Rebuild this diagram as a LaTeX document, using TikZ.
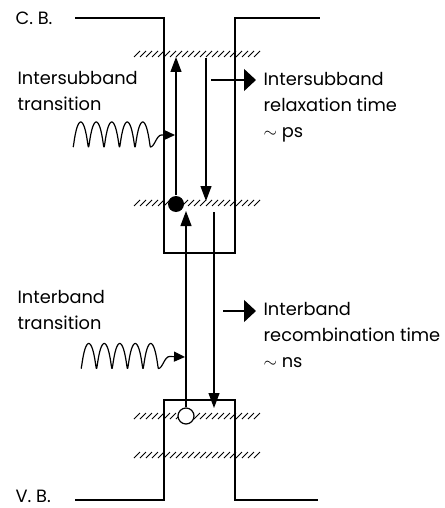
\documentclass[tikz,border=0pt]{standalone}
\usepackage{fontspec}
\setmainfont{Poppins}
\usetikzlibrary{arrows.meta}

\begin{document}
\begin{tikzpicture}[x=1pt, y=-1pt, line width=1.2pt,
	txt/.style={font=\fontsize{17.8}{26}\selectfont, align=left, inner sep=0pt, anchor=north west},
	hatch/.style={line width=0.8pt},
	vtip/.style={-{Triangle[length=15pt,width=11pt]}},
	htip/.style={-{Triangle[length=12pt,width=22pt]}},
	wtip/.style={-{Triangle[length=11pt,width=10pt]}}]
	\useasboundingbox (0,0) rectangle (444,508);
	\node[txt, anchor=west] (cb) at (15,18) {C. B.};
	\node[txt, anchor=west] (vb) at (15,496) {V. B.};
	\draw (75,18) -- (164,18) -- (164,253) -- (235,253) -- (235,18) -- (320,18);
	\draw (75,500) -- (164,500) -- (164,400) -- (235,400) -- (235,500) -- (318,500);
	\foreach \hy in {54,203,416,455}
		\foreach \hx in {134,140,...,256}
			\draw[hatch] (\hx,\hy+3) -- ++(6,-6);
	\node[circle, fill, inner sep=0pt, minimum size=16pt] (el) at (176,204) {};
	\node[circle, draw, fill=white, inner sep=0pt, minimum size=16pt] (ho) at (186,416) {};
	\coordinate (elTop) at (176,57);
	\coordinate (relaxS) at (206,58);
	\coordinate (relaxE) at (206,201);
	\coordinate (exTop) at (186,211);
	\coordinate (recS) at (214,212);
	\coordinate (recE) at (214,408);
	\draw[vtip] (el) -- (elTop);
	\draw[vtip] (relaxS) -- (relaxE);
	\draw[vtip] (ho) -- (exTop);
	\draw[vtip] (recS) -- (recE);
	\coordinate (tauS) at (211,80);
	\coordinate (tauE) at (256,80);
	\coordinate (recTauS) at (223,311);
	\coordinate (recTauE) at (256,311);
	\draw[htip] (tauS) -- (tauE);
	\draw[htip] (recTauS) -- (recTauE);
	\coordinate (ph1) at (175,135);
	\coordinate (ph2) at (185,357);
	\draw[wtip, line join=round] plot[domain=0:1800, samples=241] ({73+\x/360*15.5-1.6*sin(\x)},{134.5+12.5*cos(\x)})
		.. controls +(4,0) and +(-5,0) .. +(11,-12) -- (ph1);
	\draw[wtip, line join=round] plot[domain=0:1800, samples=241] ({81+\x/360*15.5-1.6*sin(\x)},{356+12.5*cos(\x)})
		.. controls +(4,0) and +(-5,0) .. +(11,-12) -- (ph2);
	\node[txt] (intraLbl) at (17,71) {Intersubband\\transition};
	\node[txt] (interLbl) at (17,290) {Interband\\transition};
	\node[txt] (relaxLbl) at (263,72) {Intersubband\\relaxation time\\$\sim$ ps};
	\node[txt] (recLbl) at (263,302) {Interband\\recombination time\\$\sim$ ns};
\end{tikzpicture}
\end{document}
